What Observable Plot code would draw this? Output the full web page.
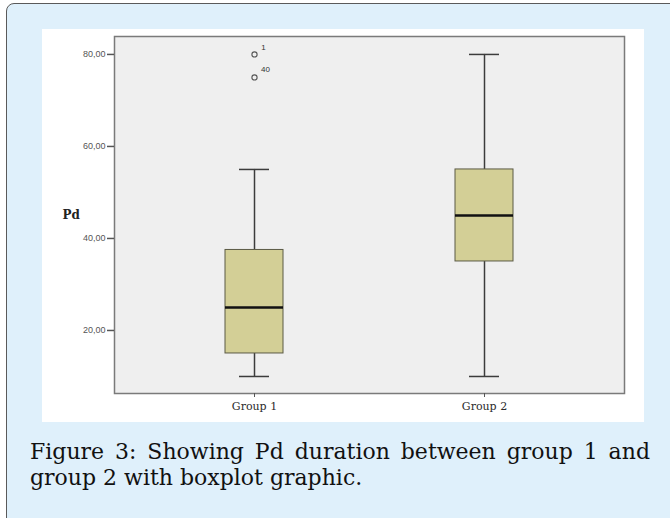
<!DOCTYPE html>
<html>
<head>
<meta charset="utf-8">
<script src="https://cdn.jsdelivr.net/npm/d3@7"></script>
<script src="https://cdn.jsdelivr.net/npm/@observablehq/plot@0.6"></script>
<style>
  html, body { margin: 0; padding: 0; width: 670px; height: 518px; overflow: hidden; background: #ffffff; }
  #outer { position: absolute; left: 6px; top: 3px; width: 720px; height: 600px; box-sizing: border-box;
           border: 1.5px solid #5a5a5a; border-radius: 8px; background: #dff0fb; }
  #white { position: absolute; left: 42px; top: 29px; width: 602px; height: 393px; background: #ffffff; }
  #caption { position: absolute; left: 30px; top: 439px; width: 620px; font-family: "DejaVu Serif", serif;
             font-size: 22px; color: #111; line-height: 26px; }
  #caption .l1 { text-align: justify; text-align-last: justify; white-space: nowrap; }
</style>
</head>
<body>
<div id="outer"></div>
<div id="white"></div>
<div id="caption"><div class="l1">Figure 3: Showing Pd duration between group 1 and</div><div>group 2 with boxplot graphic.</div></div>
<script>
const groups = ["Group 1", "Group 2"];
const lowerWhisker = [10, 10];
const q1 = [15, 35];
const median = [25, 45];
const q3 = [37.5, 55];
const upperWhisker = [55, 80];
const outlierGroup = ["Group 1", "Group 1"];
const outlierValue = [80, 75];
const outlierLabel = ["1", "40"];
const yTicks = [20, 40, 60, 80];

const boxes = groups.map((g, i) => ({group: g, lo: lowerWhisker[i], q1: q1[i], med: median[i], q3: q3[i], hi: upperWhisker[i]}));
const outliers = outlierGroup.map((g, i) => ({group: g, value: outlierValue[i], label: outlierLabel[i]}));
const fmt = d => d3.format(".2f")(d).replace(".", ",");

const chart = Plot.plot({
  width: 602,
  height: 393,
  marginLeft: 72,
  marginRight: 20,
  marginTop: 7,
  marginBottom: 29,
  style: {background: "transparent", overflow: "visible"},
  x: {domain: groups, paddingInner: 0.748, paddingOuter: 0.4826, label: null},
  y: {domain: [6.3, 83.9], label: null},
  marks: [
    Plot.frame({fill: "#efefef", stroke: "none"}),
    Plot.ruleX(boxes, {x: "group", y1: "lo", y2: "q1", stroke: "#3c3c3c", strokeWidth: 1.5}),
    Plot.ruleX(boxes, {x: "group", y1: "q3", y2: "hi", stroke: "#3c3c3c", strokeWidth: 1.5}),
    Plot.tickY(boxes, {x: "group", y: "lo", stroke: "#3c3c3c", strokeWidth: 1.5, insetLeft: 14, insetRight: 14}),
    Plot.tickY(boxes, {x: "group", y: "hi", stroke: "#3c3c3c", strokeWidth: 1.5, insetLeft: 14, insetRight: 14}),
    Plot.barY(boxes, {x: "group", y1: "q1", y2: "q3", fill: "#d3cf96", stroke: "#5b5a45", strokeWidth: 1}),
    Plot.tickY(boxes, {x: "group", y: "med", stroke: "#111", strokeWidth: 2.5}),
    Plot.dot(outliers, {x: "group", y: "value", r: 2.6, stroke: "#555", strokeWidth: 1.1, fill: "none"}),
    Plot.text(outliers.filter(d => d.label === "1"), {x: "group", y: "value", text: "label", dx: 9, dy: -7, fontSize: 8, fill: "#333", fontFamily: "Liberation Sans, Arial, sans-serif"}),
    Plot.text(outliers.filter(d => d.label === "40"), {x: "group", y: "value", text: "label", dx: 11, dy: -8, fontSize: 8, fill: "#333", fontFamily: "Liberation Sans, Arial, sans-serif"}),
    Plot.frame({stroke: "#7a7a7a", strokeWidth: 1.5}),
    Plot.axisY({ticks: yTicks, tickFormat: fmt, tickSize: 7, tickPadding: 2, stroke: "#555", strokeWidth: 1.5,
                fontSize: 9, fill: "#555", fontFamily: "Liberation Sans, Arial, sans-serif", label: null}),
    Plot.axisX({tickSize: 4, tickPadding: 5, stroke: "#555", fontSize: 11, fill: "#2a2a2a",
                fontFamily: "DejaVu Serif, serif", label: null}),
    Plot.text(["Pd"], {frameAnchor: "left", dx: -52, fontSize: 12, fontFamily: "DejaVu Serif, serif", fill: "#222", fontWeight: "bold"})
  ]
});
document.getElementById("white").appendChild(chart);
</script>
</body>
</html>
